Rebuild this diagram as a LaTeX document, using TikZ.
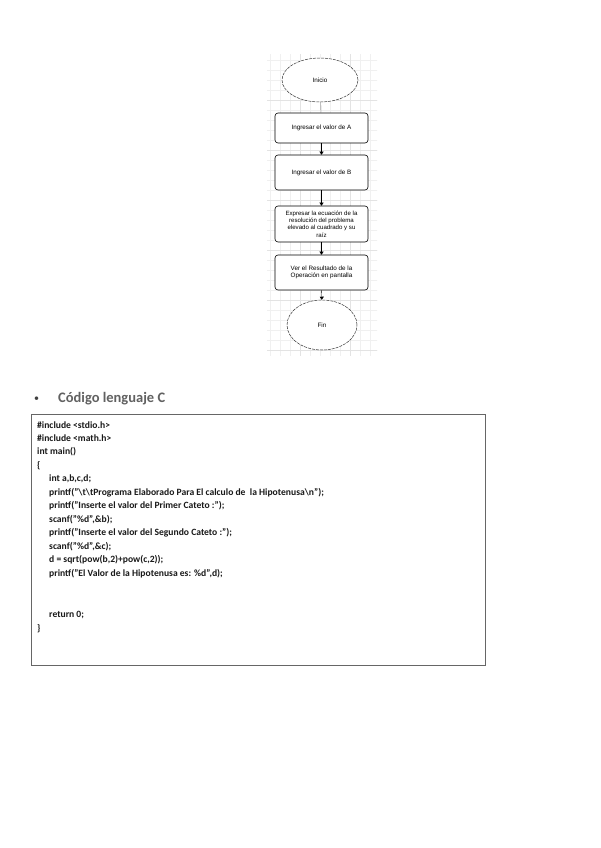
\documentclass[tikz,border=0pt]{standalone}
\usepackage{fontspec}
\setmainfont{Carlito}
\newfontfamily\flowfont{Liberation Sans}
\usetikzlibrary{shapes.geometric,arrows.meta}
\begin{document}
\begin{tikzpicture}[x=1pt,y=1pt,
  term/.style={draw=black!80,dashed,dash pattern=on 3pt off 1pt,ellipse,line width=0.5pt,fill=white,minimum width=#1},
  procbox/.style={draw=black,rounded corners=3pt,line width=0.6pt,fill=white,minimum width=93pt,align=center,font=\flowfont\fontsize{6.3}{7.5}\selectfont},
  flowtxt/.style={font=\flowfont\fontsize{6.3}{7.5}\selectfont},
  flowarrow/.style={-{Triangle[length=3pt,width=4pt]},line width=0.4pt,black},
  codeline/.style={anchor=west,inner sep=0pt,font=\bfseries\fontsize{9.6}{11}\selectfont,text=black!90}
]
\useasboundingbox (0,0) rectangle (600,-848);
\fill[white] (0,0) rectangle (600,-848);
% grid background of the flowchart
\fill[white] (267,-55) rectangle (377,-355);
\begin{scope}
\clip (267,-55) rectangle (377,-355);
\draw[gray!12,line width=0.3pt,step=10] (260,-360) grid (380,-50);
\draw[gray!22,line width=0.4pt,step=50] (250,-400) grid (400,-50);
\end{scope}
% flowchart nodes
\node[term=76pt,minimum height=44pt,flowtxt] (ini) at (320,-80) {Inicio};
\node[procbox,minimum height=30pt] (a) at (321.5,-128) {Ingresar el valor de A};
\node[procbox,minimum height=35pt] (b) at (321.5,-172.5) {Ingresar el valor de B};
\node[procbox,minimum height=36pt,inner sep=1pt,font=\flowfont\fontsize{6.1}{7.3}\selectfont] (c) at (321.5,-224) {Expresar la ecuación de la\\resolución del problema\\elevado al cuadrado y su\\raíz};
\node[procbox,minimum height=35pt] (d) at (321.5,-272.5) {Ver el Resultado de la\\Operación en pantalla};
\node[term=70pt,minimum height=50pt,flowtxt] (fin) at (322,-325) {Fin};
\draw[black!60,line width=0.4pt] (ini) -- (a);
\draw[flowarrow] (a) -- (b);
\draw[flowarrow] (b) -- (c);
\draw[flowarrow] (c) -- (d);
\draw[flowarrow] (d) -- (fin);
% heading
\node[anchor=west,inner sep=0pt,font=\fontsize{10}{12}\selectfont,text=black!75] (bul) at (34,-399.5) {•};
\node[anchor=west,inner sep=0pt,font=\bfseries\fontsize{14.5}{16}\selectfont,text=black!62] (head) at (58,-399) {Código lenguaje C};
% code box
\draw[gray!80!black,line width=0.8pt] (31,-414) rectangle (485,-665);
\node[codeline] (l1) at (37,-425) {\#include <stdio.h>};
\node[codeline] (l2) at (37,-438.5) {\#include <math.h>};
\node[codeline] (l3) at (37,-452) {int main()};
\node[codeline] (l4) at (37,-465.5) {\{};
\node[codeline] (l5) at (49,-479) {int a,b,c,d;};
\node[codeline] (l6) at (49,-492.5) {printf("\textbackslash t\textbackslash tPrograma Elaborado Para El calculo de \ la Hipotenusa\textbackslash n");};
\node[codeline] (l7) at (49,-506) {printf("Inserte el valor del Primer Cateto :");};
\node[codeline] (l8) at (49,-519.5) {scanf("\%d",\&b);};
\node[codeline] (l9) at (49,-533) {printf("Inserte el valor del Segundo Cateto :");};
\node[codeline] (l10) at (49,-546.5) {scanf("\%d",\&c);};
\node[codeline] (l11) at (49,-560) {d = sqrt(pow(b,2)+pow(c,2));};
\node[codeline] (l12) at (49,-573.5) {printf("El Valor de la Hipotenusa es: \%d",d);};
\node[codeline] (l13) at (49,-615) {return 0;};
\node[codeline] (l14) at (37,-628.5) {\}};
\end{tikzpicture}
\end{document}
